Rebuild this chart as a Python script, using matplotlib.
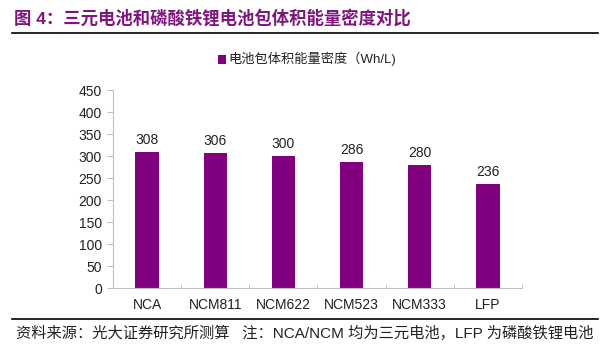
import matplotlib
matplotlib.use("Agg")
import matplotlib.pyplot as plt
from matplotlib.patches import Rectangle
from matplotlib.lines import Line2D

plt.rcParams['font.family'] = ['Liberation Sans', 'Noto Sans CJK SC', 'DejaVu Sans']

categories = ["NCA", "NCM811", "NCM622", "NCM523", "NCM333", "LFP"]
values = [308, 306, 300, 286, 280, 236]
yticks = [0, 50, 100, 150, 200, 250, 300, 350, 400, 450]
series_name = "电池包体积能量密度（Wh/L)"
title = "图 4：三元电池和磷酸铁锂电池包体积能量密度对比"
footer = "资料来源：光大证券研究所测算   注：NCA/NCM 均为三元电池，LFP 为磷酸铁锂电池"

bar_color = "#800080"
title_color = "#80157F"

fig = plt.figure(figsize=(6.08, 3.58), dpi=100)
ax = fig.add_axes([113/608, 1-288/358, (522-113)/608, (288-90)/358])

x = list(range(len(categories)))
ax.bar(x, values, width=0.34, color=bar_color, zorder=2)
for xi, v in zip(x, values):
    ax.text(xi, v + 12, str(v), ha='center', va='bottom', fontsize=10, color='#222222')

ax.set_xlim(-0.5, len(categories) - 0.5)
ax.set_ylim(0, 450)
ax.set_yticks(yticks)
ax.set_yticklabels([str(t) for t in yticks], fontsize=10, color='#222222')
ax.set_xticks(x)
ax.set_xticklabels(categories, fontsize=10, color='#222222')
ax.set_xticks([i - 0.5 for i in range(len(categories) + 1)], minor=True)
ax.tick_params(axis='x', which='major', length=0, pad=7)
ax.tick_params(axis='x', which='minor', length=3, direction='in', color='#bfbfbf')
ax.tick_params(axis='y', length=4, color='#bfbfbf', pad=4)
for s in ['top', 'right']:
    ax.spines[s].set_visible(False)
for s in ['left', 'bottom']:
    ax.spines[s].set_color('#bfbfbf')
    ax.spines[s].set_linewidth(0.8)

# legend
fig.patches.append(Rectangle((218/608, 1-64/358), 8/608, 9/358, transform=fig.transFigure,
                             facecolor=bar_color, edgecolor='none'))
fig.text(228/608, 1-59/358, series_name, fontsize=9.5, va='center', ha='left', color='#222222')

# title
fig.text(14/608, 1-18/358, title, fontsize=12.5, fontweight='bold', color=title_color,
         va='center', ha='left')
fig.add_artist(Line2D([12/608, 598/608], [1-33/358, 1-33/358], transform=fig.transFigure,
                      color='black', linewidth=1.2))

# footer
fig.add_artist(Line2D([12/608, 598/608], [1-319/358, 1-319/358], transform=fig.transFigure,
                      color='black', linewidth=1.2))
fig.text(16/608, 1-333/358, footer, fontsize=11, va='center', ha='left', color='#222222')

fig.savefig("out.png", dpi=100)
